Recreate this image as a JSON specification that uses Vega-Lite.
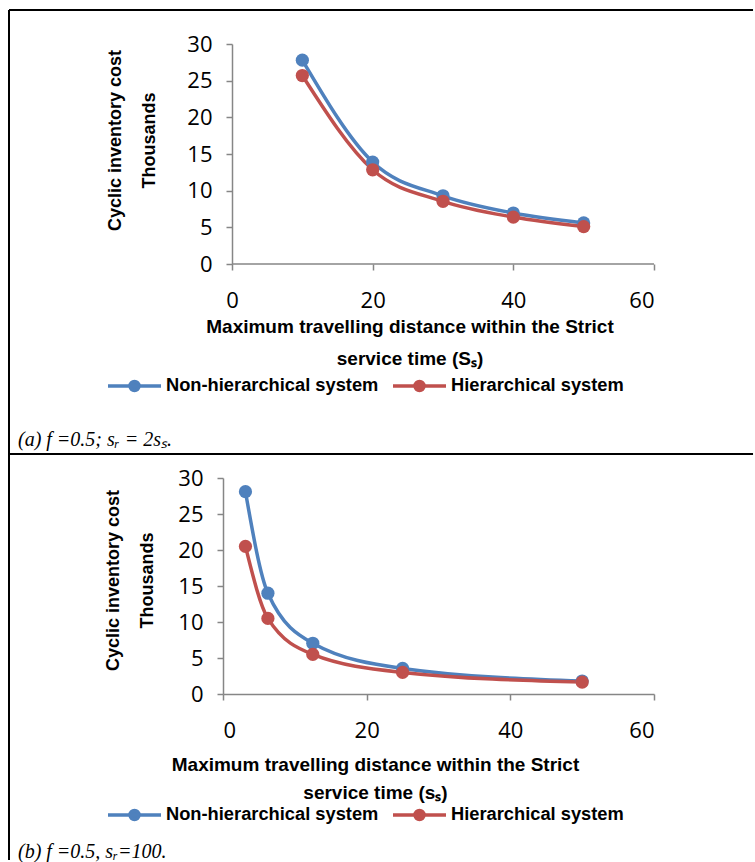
{
  "$schema": "https://vega.github.io/schema/vega-lite/v6.json",
  "background": "white",
  "padding": {"left": 8, "top": 9, "right": 0, "bottom": 0},
  "config": {
    "view": {"stroke": null},
    "axis": {
      "grid": false,
      "domainColor": "#868686",
      "tickColor": "#868686",
      "domainWidth": 1.5,
      "tickWidth": 1.5,
      "tickSize": 6,
      "labelOverlap": false,
      "labelFont": "Open Sans",
      "labelFontSize": 22,
      "labelColor": "black",
      "titleFont": "Liberation Sans",
      "titleFontWeight": "bold",
      "titleColor": "black"
    },
    "legend": {
      "orient": "none",
      "direction": "horizontal",
      "padding": 0,
      "labelFont": "Liberation Sans",
      "labelFontWeight": "bold",
      "labelFontSize": 18.3,
      "labelColor": "black",
      "labelLimit": 0,
      "labelOffset": 3,
      "columnPadding": 7,
      "symbolSize": 2809,
      "symbolStrokeWidth": 3.5,
      "symbolType": "M-1,0L-0.17,0A0.17,0.17,0,1,1,0.17,0L1,0M0.17,0A0.17,0.17,0,1,1,-0.17,0Z"
    }
  },
  "datasets": {
    "panelA": [
      {"series": "Non-hierarchical system", "x": 10, "y": 27.8},
      {"series": "Non-hierarchical system", "x": 20, "y": 13.9},
      {"series": "Non-hierarchical system", "x": 30, "y": 9.3},
      {"series": "Non-hierarchical system", "x": 40, "y": 6.95},
      {"series": "Non-hierarchical system", "x": 50, "y": 5.6},
      {"series": "Hierarchical system", "x": 10, "y": 25.7},
      {"series": "Hierarchical system", "x": 20, "y": 12.85},
      {"series": "Hierarchical system", "x": 30, "y": 8.55},
      {"series": "Hierarchical system", "x": 40, "y": 6.4},
      {"series": "Hierarchical system", "x": 50, "y": 5.1}
    ],
    "panelB": [
      {"series": "Non-hierarchical system", "x": 3.125, "y": 28.1},
      {"series": "Non-hierarchical system", "x": 6.25, "y": 14.0},
      {"series": "Non-hierarchical system", "x": 12.5, "y": 7.05},
      {"series": "Non-hierarchical system", "x": 25, "y": 3.55},
      {"series": "Non-hierarchical system", "x": 50, "y": 1.8},
      {"series": "Hierarchical system", "x": 3.125, "y": 20.5},
      {"series": "Hierarchical system", "x": 6.25, "y": 10.5},
      {"series": "Hierarchical system", "x": 12.5, "y": 5.5},
      {"series": "Hierarchical system", "x": 25, "y": 3.0},
      {"series": "Hierarchical system", "x": 50, "y": 1.65}
    ],
    "one": [{}]
  },
  "columns": 1,
  "spacing": -2,
  "resolve": {"scale": {"color": "independent"}},
  "concat": [
    {
      "width": 431,
      "height": 220,
      "data": {"name": "panelA"},
      "layer": [
        {
          "mark": {"type": "line", "interpolate": "monotone", "strokeWidth": 3.5},
          "encoding": {
            "x": {"field": "x", "type": "quantitative", "scale": {"domain": [-1.2796, 60], "nice": false, "zero": false},
              "axis": {"values": [0, 20, 40, 60], "labelPadding": 20, "domain": false, "labelOverlap": false,
                "title": ["Maximum travelling distance within the Strict", "service time (Sₛ)"],
                "titleFontSize": 19, "titleLineHeight": 32, "titleX": 186.5, "titleY": 62,
                "titleBaseline": "middle", "titleAlign": "center"}},
            "y": {"field": "y", "type": "quantitative", "scale": {"domain": [0, 30], "nice": false},
              "axis": {"values": [0, 5, 10, 15, 20, 25, 30], "labelPadding": 14, "offset": -9, "labelOverlap": false,
                "labelBound": false, "tickCount": 7,
                "title": ["Cyclic inventory cost", "Thousands"],
                "titleFontSize": 18, "titleLineHeight": 34, "titleX": -117, "titleY": 96,
                "titleAngle": -90, "titleBaseline": "middle", "titleAlign": "center"}},
            "color": {"field": "series", "type": "nominal",
              "scale": {"domain": ["Non-hierarchical system", "Hierarchical system"], "range": ["#4F81BD", "#C0504D"]},
              "legend": {"title": null, "legendX": -117, "legendY": 313,
                "encode": {"symbols": {"update": {
                  "fill": [{"test": "datum.value === 'Non-hierarchical system'", "value": "#4F81BD"}, {"value": "#C0504D"}],
                  "stroke": [{"test": "datum.value === 'Non-hierarchical system'", "value": "#4F81BD"}, {"value": "#C0504D"}],
                  "opacity": {"value": 1}}}}}}
          }
        },
        {
          "mark": {"type": "circle", "size": 175, "opacity": 1},
          "encoding": {
            "x": {"field": "x", "type": "quantitative", "scale": {"domain": [-1.2796, 60], "nice": false, "zero": false}},
            "y": {"field": "y", "type": "quantitative", "scale": {"domain": [0, 30], "nice": false}},
            "color": {"field": "series", "type": "nominal"}
          }
        },
        {
          "data": {"name": "one"},
          "mark": {"type": "rule", "color": "#868686", "strokeWidth": 1.5},
          "encoding": {
            "x": {"datum": 0, "type": "quantitative"},
            "x2": {"datum": 60},
            "y": {"datum": 0, "type": "quantitative"}
          }
        },
        {
          "data": {"name": "one"},
          "mark": {"type": "rule", "color": "black", "strokeWidth": 2},
          "encoding": {
            "x": {"datum": -31.706, "type": "quantitative"},
            "y": {"datum": 34.636, "type": "quantitative"},
            "y2": {"datum": -25.909}
          }
        },
        {
          "data": {"name": "one"},
          "mark": {"type": "rule", "color": "black", "strokeWidth": 2},
          "encoding": {
            "x": {"datum": -31.706, "type": "quantitative"},
            "x2": {"datum": 74.08},
            "y": {"datum": 34.636, "type": "quantitative"}
          }
        },
        {
          "data": {"name": "one"},
          "mark": {"type": "rule", "color": "black", "strokeWidth": 2},
          "encoding": {
            "x": {"datum": -31.706, "type": "quantitative"},
            "x2": {"datum": 74.08},
            "y": {"datum": -25.909, "type": "quantitative"}
          }
        },
        {
          "data": {"name": "one"},
          "mark": {"type": "text", "text": "(a) f =0.5; sᵣ = 2sₛ.", "align": "left", "baseline": "middle",
            "font": "Liberation Serif", "fontStyle": "italic", "fontSize": 20, "color": "black"},
          "encoding": {
            "x": {"datum": -30.43, "type": "quantitative"},
            "y": {"datum": -24.0, "type": "quantitative"}
          }
        }
      ]
    },
    {
      "width": 431,
      "height": 216,
      "data": {"name": "panelB"},
      "layer": [
        {
          "mark": {"type": "line", "interpolate": "monotone", "strokeWidth": 3.5},
          "encoding": {
            "x": {"field": "x", "type": "quantitative", "scale": {"domain": [0, 60], "nice": false},
              "axis": {"values": [0, 20, 40, 60], "labelPadding": 20, "labelOverlap": false,
                "title": ["Maximum travelling distance within the Strict", "service time (sₛ)"],
                "titleFontSize": 19, "titleLineHeight": 28, "titleX": 152, "titleY": 70,
                "titleBaseline": "middle", "titleAlign": "center"}},
            "y": {"field": "y", "type": "quantitative", "scale": {"domain": [0, 30], "nice": false},
              "axis": {"values": [0, 5, 10, 15, 20, 25, 30], "labelPadding": 14, "labelOverlap": false,
                "labelBound": false, "tickCount": 7,
                "title": ["Cyclic inventory cost", "Thousands"],
                "titleFontSize": 18, "titleLineHeight": 34, "titleX": -110, "titleY": 102,
                "titleAngle": -90, "titleBaseline": "middle", "titleAlign": "center"}},
            "color": {"field": "series", "type": "nominal",
              "scale": {"domain": ["Non-hierarchical system", "Hierarchical system"], "range": ["#4F81BD", "#C0504D"]},
              "legend": {"title": null, "legendX": -117, "legendY": 308,
                "encode": {"symbols": {"update": {
                  "fill": [{"test": "datum.value === 'Non-hierarchical system'", "value": "#4F81BD"}, {"value": "#C0504D"}],
                  "stroke": [{"test": "datum.value === 'Non-hierarchical system'", "value": "#4F81BD"}, {"value": "#C0504D"}],
                  "opacity": {"value": 1}}}}}}
          }
        },
        {
          "mark": {"type": "circle", "size": 175, "opacity": 1},
          "encoding": {
            "x": {"field": "x", "type": "quantitative", "scale": {"domain": [0, 60], "nice": false}},
            "y": {"field": "y", "type": "quantitative", "scale": {"domain": [0, 30], "nice": false}},
            "color": {"field": "series", "type": "nominal"}
          }
        },
        {
          "data": {"name": "one"},
          "mark": {"type": "rule", "color": "black", "strokeWidth": 2},
          "encoding": {
            "x": {"datum": -29.791, "type": "quantitative"},
            "y": {"datum": 33.333, "type": "quantitative"},
            "y2": {"datum": -23.06}
          }
        },
        {
          "data": {"name": "one"},
          "mark": {"type": "rule", "color": "black", "strokeWidth": 2},
          "encoding": {
            "x": {"datum": -29.791, "type": "quantitative"},
            "x2": {"datum": 73.78},
            "y": {"datum": 33.333, "type": "quantitative"}
          }
        },
        {
          "data": {"name": "one"},
          "mark": {"type": "text", "text": "(b) f =0.5, sᵣ=100.", "align": "left", "baseline": "middle",
            "font": "Liberation Serif", "fontStyle": "italic", "fontSize": 20, "color": "black"},
          "encoding": {
            "x": {"datum": -28.54, "type": "quantitative"},
            "y": {"datum": -21.94, "type": "quantitative"}
          }
        }
      ]
    }
  ]
}
